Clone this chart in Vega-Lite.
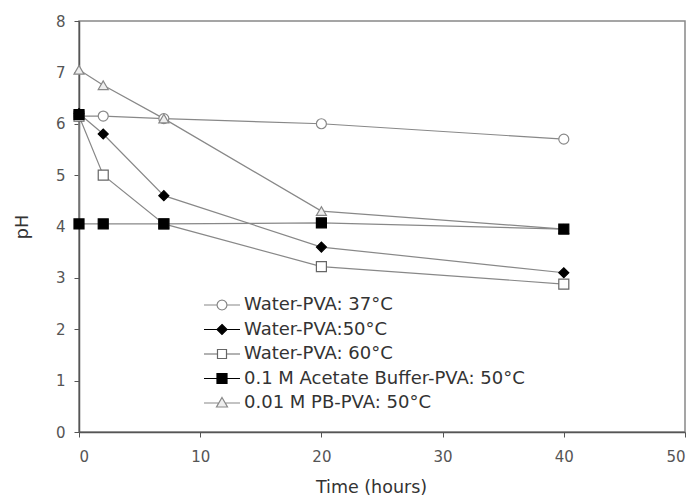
{
  "$schema": "https://vega.github.io/schema/vega-lite/v6.json",
  "width": 606,
  "height": 411,
  "autosize": {"type": "none"},
  "padding": {"left": 79, "top": 21, "right": 11, "bottom": 66},
  "background": "white",
  "config": {
    "font": "DejaVu Sans",
    "view": {"stroke": "#888", "strokeWidth": 1.5},
    "axis": {
      "grid": false,
      "domainColor": "#555",
      "domainWidth": 1.5,
      "tickColor": "#555",
      "tickSize": 5,
      "labelColor": "#555",
      "labelFont": "DejaVu Sans",
      "labelFontSize": 15,
      "titleFont": "DejaVu Sans",
      "titleFontSize": 17.5,
      "titleFontWeight": "normal",
      "titleColor": "#333"
    },
    "legend": {
      "orient": "none",
      "legendX": 132,
      "legendY": 273,
      "symbolSize": 400,
      "symbolStrokeWidth": 1.2,
      "rowPadding": 4.5,
      "labelOffset": 11,
      "labelFont": "DejaVu Sans",
      "labelFontSize": 18,
      "labelColor": "#333",
      "labelLimit": 400,
      "padding": 0
    }
  },
  "data": {
    "values": [
      {"series": "Water-PVA: 37°C", "time": 0, "pH": 6.15},
      {"series": "Water-PVA: 37°C", "time": 2, "pH": 6.15},
      {"series": "Water-PVA: 37°C", "time": 7, "pH": 6.1},
      {"series": "Water-PVA: 37°C", "time": 20, "pH": 6.0},
      {"series": "Water-PVA: 37°C", "time": 40, "pH": 5.7},
      {"series": "Water-PVA:50°C", "time": 0, "pH": 6.2},
      {"series": "Water-PVA:50°C", "time": 2, "pH": 5.8},
      {"series": "Water-PVA:50°C", "time": 7, "pH": 4.6},
      {"series": "Water-PVA:50°C", "time": 20, "pH": 3.6},
      {"series": "Water-PVA:50°C", "time": 40, "pH": 3.1},
      {"series": "Water-PVA: 60°C", "time": 0, "pH": 6.15},
      {"series": "Water-PVA: 60°C", "time": 2, "pH": 5.0},
      {"series": "Water-PVA: 60°C", "time": 7, "pH": 4.05},
      {"series": "Water-PVA: 60°C", "time": 20, "pH": 3.22},
      {"series": "Water-PVA: 60°C", "time": 40, "pH": 2.88},
      {"series": "0.01 M PB-PVA: 50°C", "time": 0, "pH": 7.05},
      {"series": "0.01 M PB-PVA: 50°C", "time": 2, "pH": 6.75},
      {"series": "0.01 M PB-PVA: 50°C", "time": 7, "pH": 6.1},
      {"series": "0.01 M PB-PVA: 50°C", "time": 20, "pH": 4.3},
      {"series": "0.01 M PB-PVA: 50°C", "time": 40, "pH": 3.95},
      {"series": "0.1 M Acetate Buffer-PVA: 50°C", "time": 0, "pH": 6.18},
      {"series": "0.1 M Acetate Buffer-PVA: 50°C", "time": 0, "pH": 4.05},
      {"series": "0.1 M Acetate Buffer-PVA: 50°C", "time": 2, "pH": 4.05},
      {"series": "0.1 M Acetate Buffer-PVA: 50°C", "time": 7, "pH": 4.05},
      {"series": "0.1 M Acetate Buffer-PVA: 50°C", "time": 20, "pH": 4.07},
      {"series": "0.1 M Acetate Buffer-PVA: 50°C", "time": 40, "pH": 3.95}
    ]
  },
  "encoding": {
    "x": {
      "field": "time", "type": "quantitative",
      "scale": {"domain": [0, 50], "nice": false},
      "axis": {"values": [0, 10, 20, 30, 40, 50], "title": "Time (hours)", "labelPadding": 12, "titlePadding": 14, "titleX": 292}
    },
    "y": {
      "field": "pH", "type": "quantitative",
      "scale": {"domain": [0, 8], "nice": false},
      "axis": {"values": [0, 1, 2, 3, 4, 5, 6, 7, 8], "title": "pH", "labelPadding": 9, "titlePadding": 24}
    },
    "fill": {
      "field": "series", "type": "nominal",
      "scale": {
        "domain": ["Water-PVA: 37°C", "Water-PVA:50°C", "Water-PVA: 60°C", "0.1 M Acetate Buffer-PVA: 50°C", "0.01 M PB-PVA: 50°C"],
        "range": ["#ffffff", "#000000", "#ffffff", "#000000", "#eeeeee"]
      },
      "legend": {"title": null}
    },
    "stroke": {
      "field": "series", "type": "nominal",
      "scale": {
        "domain": ["Water-PVA: 37°C", "Water-PVA:50°C", "Water-PVA: 60°C", "0.1 M Acetate Buffer-PVA: 50°C", "0.01 M PB-PVA: 50°C"],
        "range": ["#888888", "#000000", "#666666", "#000000", "#888888"]
      },
      "legend": {"title": null}
    }
  },
  "layer": [
    {
      "mark": {"type": "line", "stroke": "#888", "strokeWidth": 1.2},
      "encoding": {
        "detail": {"field": "series"},
        "order": {"value": null},
        "fill": {"value": null},
        "stroke": {"value": "#888"}
      }
    },
    {
      "mark": {"type": "point", "filled": false, "size": 100, "strokeWidth": 1.2, "opacity": 1},
      "encoding": {
        "shape": {
          "condition": [
            {"test": "datum.series == 'Water-PVA:50°C'", "value": "diamond"},
            {"test": "datum.series == 'Water-PVA: 60°C' || datum.series == '0.1 M Acetate Buffer-PVA: 50°C'", "value": "square"},
            {"test": "datum.series == '0.01 M PB-PVA: 50°C'", "value": "triangle-up"}
          ],
          "value": "circle"
        }
      }
    },
    {
      "transform": [{"filter": "datum.time < 0"}],
      "mark": {"type": "point", "filled": false, "size": 100, "strokeWidth": 1.2, "opacity": 1},
      "encoding": {
        "shape": {
          "field": "series", "type": "nominal",
          "scale": {
            "domain": ["Water-PVA: 37°C", "Water-PVA:50°C", "Water-PVA: 60°C", "0.1 M Acetate Buffer-PVA: 50°C", "0.01 M PB-PVA: 50°C"],
            "range": [
              "M-1.8,0L-0.5,0M0.5,0L1.8,0M0.5,0L0.433,0.25L0.25,0.433L0,0.5L-0.25,0.433L-0.433,0.25L-0.5,0L-0.433,-0.25L-0.25,-0.433L0,-0.5L0.25,-0.433L0.433,-0.25Z",
              "M-1.8,0L-0.5,0M0.5,0L1.8,0M0,-0.5L0.5,0L0,0.5L-0.5,0Z",
              "M-1.8,0L-0.45,0M0.45,0L1.8,0M-0.45,-0.45L0.45,-0.45L0.45,0.45L-0.45,0.45Z",
              "M-1.8,0L-0.5,0M0.5,0L1.8,0M-0.5,-0.5L0.5,-0.5L0.5,0.5L-0.5,0.5Z",
              "M-1.8,0L-0.32,0M0.32,0L1.8,0M0,-0.55L0.55,0.4L-0.55,0.4Z"
            ]
          },
          "legend": {"title": null}
        }
      }
    }
  ]
}
